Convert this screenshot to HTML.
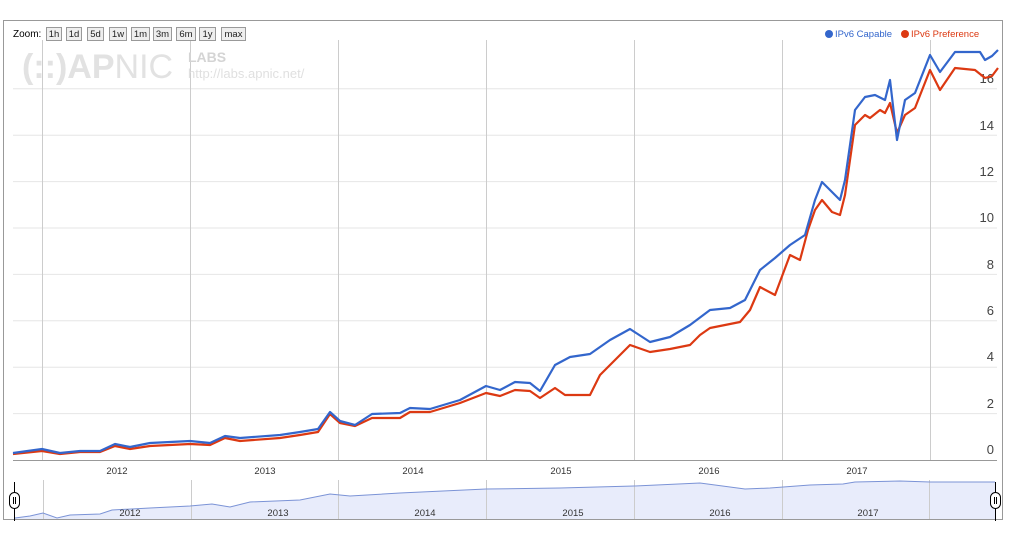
<!DOCTYPE html>
<html><head><meta charset="utf-8"><style>
body{margin:0;background:#fff;width:1026px;height:543px;overflow:hidden;font-family:"Liberation Sans",sans-serif}
svg{position:absolute;left:0;top:0}
</style></head><body>
<svg width="1026" height="543" viewBox="0 0 1026 543" font-family="Liberation Sans, sans-serif">
<rect x="3.5" y="20.5" width="999" height="499" fill="#fff" stroke="#999"/>
<g stroke="#e6e6e6">
<line x1="13" x2="997" y1="413.6" y2="413.6"/><line x1="13" x2="997" y1="367.2" y2="367.2"/>
<line x1="13" x2="997" y1="320.8" y2="320.8"/><line x1="13" x2="997" y1="274.4" y2="274.4"/>
<line x1="13" x2="997" y1="228" y2="228"/><line x1="13" x2="997" y1="181.6" y2="181.6"/>
<line x1="13" x2="997" y1="135.2" y2="135.2"/><line x1="13" x2="997" y1="88.8" y2="88.8"/>
</g>
<g stroke="#ccc">
<line x1="42.5" x2="42.5" y1="40" y2="460"/><line x1="190.5" x2="190.5" y1="40" y2="460"/>
<line x1="338.5" x2="338.5" y1="40" y2="460"/><line x1="486.5" x2="486.5" y1="40" y2="460"/>
<line x1="634.5" x2="634.5" y1="40" y2="460"/><line x1="782.5" x2="782.5" y1="40" y2="460"/>
<line x1="930.5" x2="930.5" y1="40" y2="460"/>
</g>
<line x1="13" x2="997" y1="460.5" y2="460.5" stroke="#999"/>
<text x="22" y="78" font-size="34" fill="#e2e2e2"><tspan font-weight="bold">(::)AP</tspan>NIC</text>
<text x="188" y="62" font-size="14" fill="#d4d4d4" font-weight="bold">LABS</text>
<text x="188" y="78" font-size="13" fill="#e0e0e0">http://labs.apnic.net/</text>
<text x="13" y="37" font-size="10" fill="#000">Zoom:</text>
<g font-size="9.5" fill="#222" text-anchor="middle">
<g fill="#eee" stroke="#999"><rect x="46.5" y="27.5" width="15" height="13"/><rect x="66.5" y="27.5" width="15" height="13"/><rect x="87.5" y="27.5" width="16" height="13"/><rect x="109.5" y="27.5" width="17" height="13"/><rect x="131.5" y="27.5" width="18" height="13"/><rect x="153.5" y="27.5" width="18" height="13"/><rect x="176.5" y="27.5" width="19" height="13"/><rect x="199.5" y="27.5" width="16" height="13"/><rect x="221.5" y="27.5" width="24" height="13"/></g>
<text x="54" y="37">1h</text><text x="74" y="37">1d</text><text x="95.5" y="37">5d</text><text x="118" y="37">1w</text><text x="140.5" y="37">1m</text><text x="162.5" y="37">3m</text><text x="186" y="37">6m</text><text x="207.5" y="37">1y</text><text x="233.5" y="37">max</text>
</g>
<circle cx="829" cy="34" r="4" fill="#3366cc"/><text x="835" y="37" font-size="9.5" fill="#3366cc">IPv6 Capable</text>
<circle cx="905" cy="34" r="4" fill="#dc3912"/><text x="911" y="37" font-size="9.5" fill="#dc3912">IPv6 Preference</text>
<g font-size="13" fill="#444" text-anchor="end">
<text x="994" y="454">0</text><text x="994" y="408">2</text><text x="994" y="361">4</text><text x="994" y="315">6</text><text x="994" y="269">8</text><text x="994" y="222">10</text><text x="994" y="176">12</text><text x="994" y="130">14</text><text x="994" y="83">16</text>
</g>
<polyline fill="none" stroke="#dc3912" stroke-width="2.2" stroke-linejoin="round" points="13,454 42,451 60,454 80,452 100,452 115,446 130,449 150,446 190,444 210,445 225,438 240,441 280,438 300,435 318,432 330,414 340,423 355,426 372,418 400,418 410,412 430,412 460,403 486,393 500,396 515,390 530,391 540,398 555,388 565,395 590,395 600,375 615,360 630,345 650,352 670,349 690,345 700,335 710,328 740,322 750,310 760,287 775,295 790,255 800,260 808,230 815,210 822,200 832,212 840,215 845,195 855,125 865,115 870,118 880,110 885,113 890,103 897,133 905,115 915,108 930,70 940,90 955,68 975,70 985,78 992,76 998,68"/>
<polyline fill="none" stroke="#3366cc" stroke-width="2.2" stroke-linejoin="round" points="13,453 42,449 60,453 80,451 100,451 115,444 130,447 150,443 190,441 210,443 225,436 240,438 280,435 300,432 318,429 330,412 340,421 355,425 372,414 400,413 410,408 430,409 460,400 486,386 500,390 515,382 530,383 540,391 555,365 570,357 590,354 610,340 630,329 650,342 670,337 690,325 710,310 730,308 745,300 760,270 775,258 790,245 805,235 815,200 822,182 832,192 840,200 845,180 855,110 865,97 875,95 885,100 890,80 897,140 905,100 915,93 930,55 940,72 955,52 980,52 985,60 992,56 998,50"/>
<g font-size="9.5" fill="#333" text-anchor="middle">
<text x="117" y="474">2012</text><text x="265" y="474">2013</text><text x="413" y="474">2014</text><text x="561" y="474">2015</text><text x="709" y="474">2016</text><text x="857" y="474">2017</text>
</g>
<polygon fill="#e8ecfb" stroke="none" points="15,519 15,518 30,516 43,513 57,518 70,515 100,514 112,510 150,508 190,506 212,504 230,507 250,502 300,500 330,494 350,496 400,493 486,489 560,488 634,486 700,483 745,489 770,488 810,485 843,484 855,482 900,481 930,482 995,482 995,519"/>
<g stroke="#ccc"><line x1="43.5" x2="43.5" y1="480" y2="519"/><line x1="191.5" x2="191.5" y1="480" y2="519"/><line x1="338.5" x2="338.5" y1="480" y2="519"/><line x1="486.5" x2="486.5" y1="480" y2="519"/><line x1="634.5" x2="634.5" y1="480" y2="519"/><line x1="782.5" x2="782.5" y1="480" y2="519"/><line x1="929.5" x2="929.5" y1="480" y2="519"/></g>
<polyline fill="none" stroke="#7b93d6" stroke-width="1" points="15,518 30,516 43,513 57,518 70,515 100,514 112,510 150,508 190,506 212,504 230,507 250,502 300,500 330,494 350,496 400,493 486,489 560,488 634,486 700,483 745,489 770,488 810,485 843,484 855,482 900,481 930,482 995,482"/>
<g font-size="9.5" fill="#333" text-anchor="middle">
<text x="130" y="516">2012</text><text x="278" y="516">2013</text><text x="425" y="516">2014</text><text x="573" y="516">2015</text><text x="720" y="516">2016</text><text x="868" y="516">2017</text>
</g>
<line x1="14.5" x2="14.5" y1="482" y2="521" stroke="#000"/>
<rect x="9.5" y="492.5" width="10" height="16" rx="5" fill="#fff" stroke="#000"/>
<line x1="13.5" x2="13.5" y1="497" y2="504" stroke="#000"/><line x1="15.5" x2="15.5" y1="497" y2="504" stroke="#000"/>
<line x1="995.5" x2="995.5" y1="482" y2="521" stroke="#000"/>
<rect x="990.5" y="492.5" width="10" height="16" rx="5" fill="#fff" stroke="#000"/>
<line x1="994.5" x2="994.5" y1="497" y2="504" stroke="#000"/><line x1="996.5" x2="996.5" y1="497" y2="504" stroke="#000"/>
</svg>
</body></html>
